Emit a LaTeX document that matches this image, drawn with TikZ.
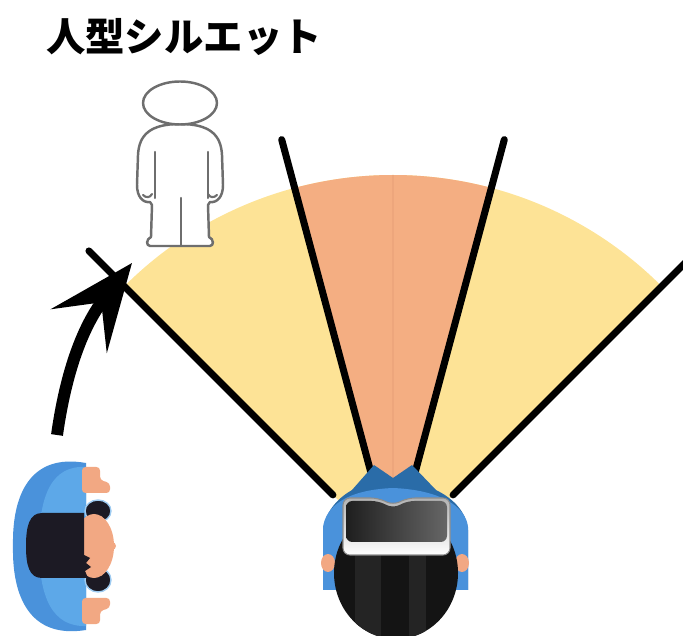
\documentclass[tikz,border=0pt]{standalone}
\usepackage{fontspec}
\newfontfamily\jpfont{Noto Sans CJK JP}
\usetikzlibrary{arrows.meta, positioning}
\definecolor{fanyellow}{RGB}{253,227,150}
\definecolor{fanorange}{RGB}{244,174,130}
\definecolor{fanmid}{RGB}{237,166,124}
\definecolor{shirtblue}{RGB}{74,146,219}
\definecolor{shirtdark}{RGB}{42,108,168}
\definecolor{shirtlight}{RGB}{93,168,232}
\definecolor{skin}{RGB}{242,168,131}
\definecolor{hair}{RGB}{28,26,36}
\definecolor{outline}{RGB}{110,110,110}
\tikzset{
x=0.5mm, y=0.5mm, % one unit per pixel of the sketch
sight/.style={line width=10pt, line cap=round}, % the four sight lines
figure/.style={draw=outline, line width=3.5pt, fill=white, line join=round}, % outline of the silhouette
figline/.style={draw=outline, line width=3pt, line cap=round}, % lines inside the silhouette
walkarrow/.style={line width=17pt, -{Stealth[length=122pt, width=100pt, inset=51pt]}}, % the turning arrow
title/.style={font=\jpfont\bfseries\fontsize{56}{62}\selectfont, inner sep=0pt}
}

\begin{document}
\begin{tikzpicture}
      \clip (0,0) rectangle (683,635);
      \coordinate (viewer) at (393,80);
      \coordinate (walkstart) at (57,200);
      \coordinate (fanedge) at (132,372);
      \node[title] (title) at (184,598) {人型シルエット};

      % field of view
      \fill[fanyellow] (viewer) -- ++(45:380) arc[start angle=45, end angle=135, radius=380] -- cycle;
      \fill[fanorange] (viewer) -- ++(75:380) arc[start angle=75, end angle=105, radius=380] -- cycle;
      \draw[fanmid, line width=1.5pt] (viewer) -- ++(90:380);
      \foreach \a in {45,75,105,135}
        \draw[sight] (viewer) ++(\a:85) -- ++(\a:345);

      % silhouette
      \draw[figure] (180,511) .. controls (150,511) and (139,500) .. (138,480)
        -- (137,450) .. controls (137,438) and (143,432) .. (150,433)
        -- (152,430) -- (151,398) .. controls (146,396) and (146,389) .. (150,389)
        -- (210,389) .. controls (214,389) and (214,396) .. (209,398)
        -- (208,430) -- (210,433) .. controls (217,432) and (223,438) .. (223,450)
        -- (222,480) .. controls (221,500) and (210,511) .. (180,511) -- cycle;
      \draw[figure] (180,532) ellipse[x radius=37, y radius=21.5];
      \draw[figline] (155,483) -- (155,437);
      \draw[figline] (208,483) -- (208,437);
      \draw[figline] (181,437) -- (181,390);
      \draw[figline] (143,440) .. controls (146,437) and (150,437) .. (152,441);
      \draw[figline] (217,440) .. controls (214,437) and (210,437) .. (208,441);

      % person walking in, seen from above
      \fill[shirtblue] (86,172) .. controls (30,182) and (12,140) .. (13,89)
        .. controls (12,38) and (30,-4) .. (86,5) -- cycle;
      \fill[shirtlight] (86,168) .. controls (52,170) and (39,140) .. (39,89)
        .. controls (39,38) and (52,8) .. (86,9) -- cycle;
      \filldraw[hair, draw=shirtlight!60, line width=2pt] (98,124) ellipse[x radius=13, y radius=11];
      \filldraw[hair, draw=shirtlight!60, line width=2pt] (98,55) ellipse[x radius=13, y radius=12];
      \fill[skin] (94,89) ellipse[x radius=20, y radius=32];
      \fill[skin] (112,89) circle[radius=4];
      \fill[hair] (84,122) -- (42,122) .. controls (29,122) and (26,108) .. (26,89)
        .. controls (26,70) and (29,57) .. (42,57) -- (88,57) -- (85,64) -- (91,68)
        -- (86,72) -- (90,77) -- (84,80) -- (84,122) -- cycle;
      \fill[skin, rounded corners=5pt] (82,142) -- (110,142) -- (110,152) -- (100,155) -- (100,168) -- (82,168) -- cycle;
      \fill[skin, rounded corners=5pt] (82,11) -- (100,11) -- (100,24) -- (110,27) -- (110,37) -- (82,37) -- cycle;

      % viewer with headset, seen from above
      \fill[shirtdark] (323,45) -- (323,105) .. controls (326,126) and (340,138) .. (352,145)
        -- (374,170) -- (393,157) -- (412,170) -- (436,145)
        .. controls (450,138) and (466,126) .. (468,105) -- (468,45) -- cycle;
      \fill[shirtblue] (323,45) -- (323,108) .. controls (326,128) and (345,145) .. (393,147)
        .. controls (441,145) and (466,128) .. (468,108) -- (468,45) -- cycle;
      \fill[skin] (328,72) ellipse[x radius=7, y radius=9];
      \fill[skin] (462,72) ellipse[x radius=7, y radius=9];
      \begin{scope}
        \clip (396,62) ellipse[x radius=62, y radius=66];
        \fill[black!92] (334,-10) rectangle (460,130);
        \fill[black!86] (355,-10) rectangle (381,130);
        \fill[black!86] (409,-10) rectangle (426,130);
      \end{scope}
      \shade[top color=black!30, bottom color=white, draw=black!45, line width=1.5pt, rounded corners=10pt]
        (343,80) -- (343,137) -- (378,137) -- (393,130) -- (408,137) -- (450,137) -- (450,80) -- cycle;
      \shade[left color=black!88, right color=black!60, rounded corners=9pt]
        (346,93) -- (346,134) -- (378,134) -- (393,127) -- (408,134) -- (447,134) -- (447,93) -- cycle;

      % turning towards the field of view
      \draw[walkarrow] (walkstart) to[out=82, in=232] (fanedge);
    \end{tikzpicture}
\end{document}
